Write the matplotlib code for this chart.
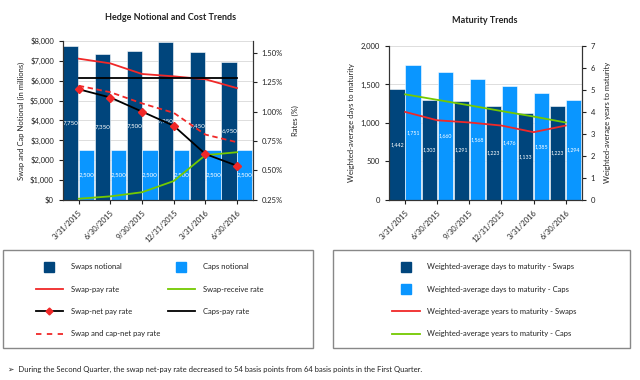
import matplotlib
matplotlib.use("Agg")
import matplotlib.pyplot as plt
from matplotlib.lines import Line2D
from matplotlib.patches import Rectangle
import numpy as np

plt.rcParams['font.family'] = ['Lato', 'DejaVu Sans']

# data
quarters = ['3/31/2015', '6/30/2015', '9/30/2015', '12/31/2015', '3/31/2016', '6/30/2016']
swaps_notional = [7750, 7350, 7500, 7950, 7450, 6950]
caps_notional = [2500, 2500, 2500, 2500, 2500, 2500]
swap_pay_rate = [1.45, 1.41, 1.32, 1.30, 1.275, 1.20]
swap_receive_rate = [0.26, 0.28, 0.315, 0.41, 0.63, 0.655]
swap_net_pay_rate = [1.19, 1.12, 1.00, 0.88, 0.64, 0.54]
caps_pay_rate = [1.285, 1.285, 1.285, 1.285, 1.285, 1.285]
swap_cap_net_rate = [1.22, 1.165, 1.07, 0.99, 0.805, 0.74]

days_swaps = [1442, 1303, 1291, 1223, 1133, 1223]
days_caps = [1751, 1660, 1568, 1476, 1385, 1294]
years_swaps = [4.00, 3.62, 3.52, 3.38, 3.08, 3.38]
years_caps = [4.80, 4.55, 4.30, 4.04, 3.79, 3.52]

dark = '#00457C'
light = '#0A96FF'
red = '#F02828'
green = '#74C900'
txt = '#222222'
fs = 5.5

fig = plt.figure(figsize=(6.4, 3.8), dpi=100)
x = np.arange(len(quarters))
w = 0.48


def style_axes(ax, ax2):
    for s in ['top']:
        ax.spines[s].set_visible(False)
        ax2.spines[s].set_visible(False)
    for a in (ax, ax2):
        a.spines['left'].set_color('#333333')
        a.spines['right'].set_color('#333333')
        a.spines['bottom'].set_color('#333333')
        a.tick_params(labelsize=fs, colors=txt, length=3, width=0.8)
    ax.set_axisbelow(True)
    ax.yaxis.grid(True, color='#dddddd', linewidth=0.7)
    ax.set_xlim(-0.5, 5.5)
    ax.set_xticks(x)
    ax.set_xticklabels(quarters, rotation=45, ha='right', rotation_mode='anchor')


# ---- Hedge Notional and Cost Trends
ax = fig.add_axes([0.0984, 0.474, 0.2966, 0.418])
ax2 = ax.twinx()
b1 = ax.bar(x - 0.25, swaps_notional, w, color=dark, edgecolor='white', linewidth=0.4)
b2 = ax.bar(x + 0.25, caps_notional, w, color=light, edgecolor='white', linewidth=0.4)
for r, v in zip(b1, swaps_notional):
    ax.text(r.get_x() + r.get_width() / 2, v / 2, f'{v:,}', ha='center', va='center',
            fontsize=4.5, color='white')
for r, v in zip(b2, caps_notional):
    ax.text(r.get_x() + r.get_width() / 2, v / 2, f'{v:,}', ha='center', va='center',
            fontsize=4.5, color='white')
ax.set_ylim(0, 8000)
ax.set_yticks(range(0, 8001, 1000))
ax.set_yticklabels([f'${v:,}' for v in range(0, 8001, 1000)])
ax.set_ylabel('Swap and Cap Notional (in millions)', fontsize=fs, color=txt, labelpad=4)

ax2.plot(x, swap_pay_rate, color=red, lw=1.3)
ax2.plot(x, swap_receive_rate, color=green, lw=1.3)
ax2.plot(x, caps_pay_rate, color='black', lw=1.3)
ax2.plot(x, swap_cap_net_rate, color=red, lw=1.3, ls=(0, (3, 2)))
ax2.plot(x, swap_net_pay_rate, color='black', lw=1.3, marker='D', ms=4,
         mfc=red, mec=red)
ax2.set_ylim(0.25, 1.60)
ax2.set_yticks(np.arange(0.25, 1.51, 0.25))
ax2.set_yticklabels([f'{v:.2f}%' for v in np.arange(0.25, 1.51, 0.25)])
ax2.set_ylabel('Rates (%)', fontsize=fs, color=txt, labelpad=6)
style_axes(ax, ax2)
fig.text(0.266, 0.955, 'Hedge Notional and Cost Trends', ha='center', va='center',
         fontsize=6.5, fontweight='bold', color=txt)

# ---- Maturity Trends
bx = fig.add_axes([0.608, 0.474, 0.301, 0.405])
bx2 = bx.twinx()
c1 = bx.bar(x - 0.25, days_swaps, w, color=dark, edgecolor='white', linewidth=0.4)
c2 = bx.bar(x + 0.25, days_caps, w, color=light, edgecolor='white', linewidth=0.4)
for bars, vals in ((c1, days_swaps), (c2, days_caps)):
    for r, v in zip(bars, vals):
        bx.text(r.get_x() + r.get_width() / 2, v / 2, f'{v:,}', ha='center', va='center',
                fontsize=3.8, color='white')
bx.set_ylim(0, 2000)
bx.set_yticks(range(0, 2001, 500))
bx.set_yticklabels([f'{v:,}' for v in range(0, 2001, 500)])
bx.set_ylabel('Weighted-average days to maturity', fontsize=fs, color=txt, labelpad=4)
bx2.plot(x, years_swaps, color=red, lw=1.3)
bx2.plot(x, years_caps, color=green, lw=1.3)
bx2.set_ylim(0, 7)
bx2.set_yticks(range(0, 8))
bx2.set_ylabel('Weighted-average years to maturity', fontsize=fs, color=txt, labelpad=6)
style_axes(bx, bx2)
fig.text(0.757, 0.945, 'Maturity Trends', ha='center', va='center',
         fontsize=6.5, fontweight='bold', color=txt)

# ---- legend boxes
for x0, x1 in ((0.0047, 0.489), (0.520, 0.984)):
    fig.add_artist(Rectangle((x0, 0.084), x1 - x0, 0.258, transform=fig.transFigure,
                             fill=False, edgecolor='#888888', linewidth=1.0))

sq = dict(marker='s', ms=7, ls='none')
h_left = [
    Line2D([], [], color=dark, **sq),
    Line2D([], [], color=red, lw=1.3),
    Line2D([], [], color='black', lw=1.3, marker='D', ms=3.5, mfc=red, mec=red),
    Line2D([], [], color=red, lw=1.3, ls=(0, (3, 3))),
    Line2D([], [], color=light, **sq),
    Line2D([], [], color=green, lw=1.3),
    Line2D([], [], color='black', lw=1.3),
]
l_left = ['Swaps notional', 'Swap-pay rate', 'Swap-net pay rate', 'Swap and cap-net pay rate',
          'Caps notional', 'Swap-receive rate', 'Caps-pay rate']
fig.legend(h_left, l_left, loc='upper left', bbox_to_anchor=(0.045, 0.325), ncol=2,
           frameon=False, fontsize=fs, handlelength=3.6, labelspacing=2.0,
           columnspacing=1.0, handletextpad=1.0, labelcolor=txt)

h_right = [
    Line2D([], [], color=dark, **sq),
    Line2D([], [], color=light, **sq),
    Line2D([], [], color=red, lw=1.3),
    Line2D([], [], color=green, lw=1.3),
]
l_right = ['Weighted-average days to maturity - Swaps', 'Weighted-average days to maturity - Caps',
           'Weighted-average years to maturity - Swaps', 'Weighted-average years to maturity - Caps']
fig.legend(h_right, l_right, loc='upper left', bbox_to_anchor=(0.602, 0.325), ncol=1,
           frameon=False, fontsize=fs, handlelength=3.6, labelspacing=2.0,
           handletextpad=1.0, labelcolor=txt)

fig.text(0.012, 0.027, '\u27a2  During the Second Quarter, the swap net-pay rate decreased to 54 basis points '
         'from 64 basis points in the First Quarter.', fontsize=fs, color=txt, va='center')

fig.savefig('out.png', dpi=100)
